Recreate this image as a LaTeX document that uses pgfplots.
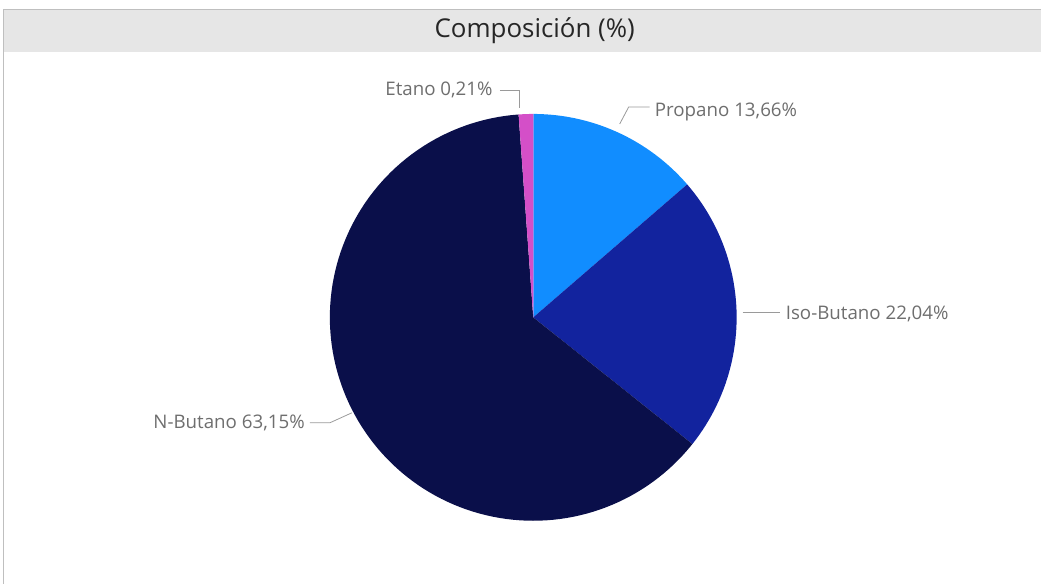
\documentclass[border=0pt]{standalone}
\usepackage{pgfplots}
\pgfplotsset{compat=1.18}
\usepackage{fontspec}
\setmainfont{Open Sans}

\definecolor{cProp}{HTML}{118DFF}
\definecolor{cIso}{HTML}{12239E}
\definecolor{cNbut}{HTML}{0A0F4A}
\definecolor{cEt}{HTML}{D44FC8}
\definecolor{cLbl}{HTML}{6E6E6E}
\definecolor{cBar}{HTML}{E6E6E6}

% pie centre and radius in pixel units
\def\cx{533.5}
\def\cy{317.5}
\def\rr{203.5}

\begin{document}
\begin{tikzpicture}
\begin{axis}[
    scale only axis,
    width=1041bp, height=584bp,
    xmin=0, xmax=1041, ymin=0, ymax=584,
    y dir=reverse,
    hide axis,
    clip=false,
]
    % frame and title bar
    \path (axis cs:0,0) rectangle (axis cs:1041,584);
    \fill[cBar] (axis cs:3,10) rectangle (axis cs:1041,52);
    \draw[black!25, line width=1pt] (axis cs:3,584) -- (axis cs:3,10) -- (axis cs:1041,10);
    \node[text=black!85, font=\fontsize{26}{30}\selectfont] at (axis cs:535,31) {Composición (\%)};

    % slices, clockwise from the top; angle = 3.6 * percent
    % Propano 13.66, Iso-Butano 22.04, N-Butano 63.15, Etano (rest of circle)
    \addplot[fill=cProp, draw=none, domain={0}:{3.6*13.66}, samples=40, variable=\t]
        ({\cx+\rr*sin(t)}, {\cy-\rr*cos(t)}) -- (\cx,\cy) -- cycle;
    \addplot[fill=cIso, draw=none, domain={3.6*13.66}:{3.6*35.70}, samples=50, variable=\t]
        ({\cx+\rr*sin(t)}, {\cy-\rr*cos(t)}) -- (\cx,\cy) -- cycle;
    \addplot[fill=cNbut, draw=none, domain={3.6*35.70}:{3.6*98.85}, samples=120, variable=\t]
        ({\cx+\rr*sin(t)}, {\cy-\rr*cos(t)}) -- (\cx,\cy) -- cycle;
    \addplot[fill=cEt, draw=none, domain={3.6*98.85}:{360}, samples=5, variable=\t]
        ({\cx+\rr*sin(t)}, {\cy-\rr*cos(t)}) -- (\cx,\cy) -- cycle;

    % leader lines
    \draw[cLbl!70, line width=0.8pt] (axis cs:500,90) -- (axis cs:520,90) -- (axis cs:520,108);
    \draw[cLbl!70, line width=0.8pt] (axis cs:620,124) -- (axis cs:629,107) -- (axis cs:650,107);
    \draw[cLbl!70, line width=0.8pt] (axis cs:743,313) -- (axis cs:780,313);
    \draw[cLbl!70, line width=0.8pt] (axis cs:310,423) -- (axis cs:330,423) -- (axis cs:352,413);

    % labels
    \tikzset{lbl/.style={text=cLbl, inner sep=0pt, font=\fontsize{18.8}{22}\selectfont}}
    \node[lbl, anchor=east] at (axis cs:493,90) {Etano 0,21\%};
    \node[lbl, anchor=west] at (axis cs:655,112) {Propano 13,66\%};
    \node[lbl, anchor=west] at (axis cs:786,314) {Iso-Butano 22,04\%};
    \node[lbl, anchor=east] at (axis cs:305,423) {N-Butano 63,15\%};
\end{axis}
\end{tikzpicture}
\end{document}
